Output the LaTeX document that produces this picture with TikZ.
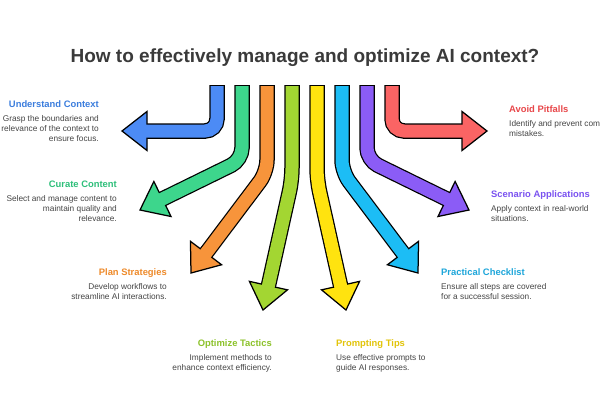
\documentclass[tikz,border=0pt]{standalone}
\usepackage{fontspec}
\setmainfont{Liberation Sans}
\usetikzlibrary{calc}
\definecolor{aBlue}{HTML}{4C8BF5}
\definecolor{aGreen}{HTML}{3DD68C}
\definecolor{aOrange}{HTML}{F7943B}
\definecolor{aLime}{HTML}{A3D632}
\definecolor{aYellow}{HTML}{FFE30F}
\definecolor{aCyan}{HTML}{1CBDF5}
\definecolor{aPurple}{HTML}{8B5CF6}
\definecolor{aRed}{HTML}{FA6464}
\definecolor{tBlue}{HTML}{3B7DDD}
\definecolor{tGreen}{HTML}{2EBF7A}
\definecolor{tOrange}{HTML}{EE8A2A}
\definecolor{tLime}{HTML}{8CC22A}
\definecolor{tYellow}{HTML}{E2C40A}
\definecolor{tCyan}{HTML}{1DA6DA}
\definecolor{tPurple}{HTML}{7A52F0}
\definecolor{tRed}{HTML}{E8474A}
\definecolor{titlegray}{HTML}{3A3A3A}
\definecolor{descgray}{HTML}{454545}
\tikzset{
  shaftout/.style={draw=black, line width=15.5pt, rounded corners=12pt, line cap=butt},
  shaftin/.style={line width=13pt, rounded corners=12pt, line cap=butt},
  headst/.style={draw=black, line width=1.25pt, line join=miter},
  headlbl/.style={inner sep=0pt, font=\fontsize{9.4}{11}\selectfont\bfseries},
  desclbl/.style={inner sep=0pt, font=\fontsize{8.3}{10}\selectfont, text=descgray},
  titlelbl/.style={inner sep=0pt, font=\fontsize{19}{22}\selectfont\bfseries, text=titlegray}
}
\newcommand\fanarrow[6]{%
  \coordinate (#1s) at (#3,86);
  \coordinate (#1b) at (#3,#4);
  \coordinate (#1t) at (#5,#6);
  \coordinate (#1h) at ($(#1t)!25pt!(#1b)$);
  \coordinate (#1i) at ($(#1t)!22pt!(#1b)$);
  \draw[shaftout] ($(#1s)+(0,-1)$) -- (#1b) -- (#1h);
  \filldraw[headst, fill=#2] (#1t) -- ($(#1h)!19.5pt!90:(#1t)$) -- ($(#1h)!19.5pt!-90:(#1t)$) -- cycle;
  \draw[shaftin, draw=#2] (#1s) -- (#1b) -- (#1i);
}
\newcommand\rdesc[1]{\parbox[t]{4cm}{\raggedleft #1}}
\newcommand\ldesc[1]{\parbox[t]{4cm}{\raggedright #1}}
\begin{document}
\begin{tikzpicture}[x=1pt,y=-1pt]
\useasboundingbox[fill=white] (0,0) rectangle (600,400);
\node[titlelbl, anchor=base] (title) at (305,62) {How to effectively manage and optimize AI context?};

\fanarrow{blue}{aBlue}{217}{131}{122}{131}
\fanarrow{green}{aGreen}{242}{160}{140}{210}
\fanarrow{orange}{aOrange}{267}{172}{191}{273}
\fanarrow{lime}{aLime}{292}{180}{263}{310}
\fanarrow{yellow}{aYellow}{317}{180}{346}{310}
\fanarrow{cyan}{aCyan}{342}{172}{418}{273}
\fanarrow{purple}{aPurple}{367}{160}{469}{210}
\fanarrow{red}{aRed}{392}{131}{487}{131}

\node[headlbl, text=tBlue, anchor=base east] (h1) at (99,107.5) {Understand Context};
\node[desclbl, anchor=base east] (d1) at (99,121.5) {\rdesc{Grasp the boundaries and\\relevance of the context to\\ensure focus.}};

\node[headlbl, text=tGreen, anchor=base east] (h2) at (117,187.5) {Curate Content};
\node[desclbl, anchor=base east] (d2) at (117,201.5) {\rdesc{Select and manage content to\\maintain quality and\\relevance.}};

\node[headlbl, text=tOrange, anchor=base east] (h3) at (167,275.5) {Plan Strategies};
\node[desclbl, anchor=base east] (d3) at (167,289.5) {\rdesc{Develop workflows to\\streamline AI interactions.}};

\node[headlbl, text=tLime, anchor=base east] (h4) at (272,346.5) {Optimize Tactics};
\node[desclbl, anchor=base east] (d4) at (272,360) {\rdesc{Implement methods to\\enhance context efficiency.}};

\node[headlbl, text=tYellow, anchor=base west] (h5) at (336,346.5) {Prompting Tips};
\node[desclbl, anchor=base west] (d5) at (336,360) {\ldesc{Use effective prompts to\\guide AI responses.}};

\node[headlbl, text=tCyan, anchor=base west] (h6) at (441,275.5) {Practical Checklist};
\node[desclbl, anchor=base west] (d6) at (441,289.5) {\ldesc{Ensure all steps are covered\\for a successful session.}};

\node[headlbl, text=tPurple, anchor=base west] (h7) at (491,197.5) {Scenario Applications};
\node[desclbl, anchor=base west] (d7) at (491,211.5) {\ldesc{Apply context in real-world\\situations.}};

\node[headlbl, text=tRed, anchor=base west] (h8) at (509,112.5) {Avoid Pitfalls};
\node[desclbl, anchor=base west] (d8) at (509,126.5) {\ldesc{Identify and prevent common\\mistakes.}};
\end{tikzpicture}
\end{document}
